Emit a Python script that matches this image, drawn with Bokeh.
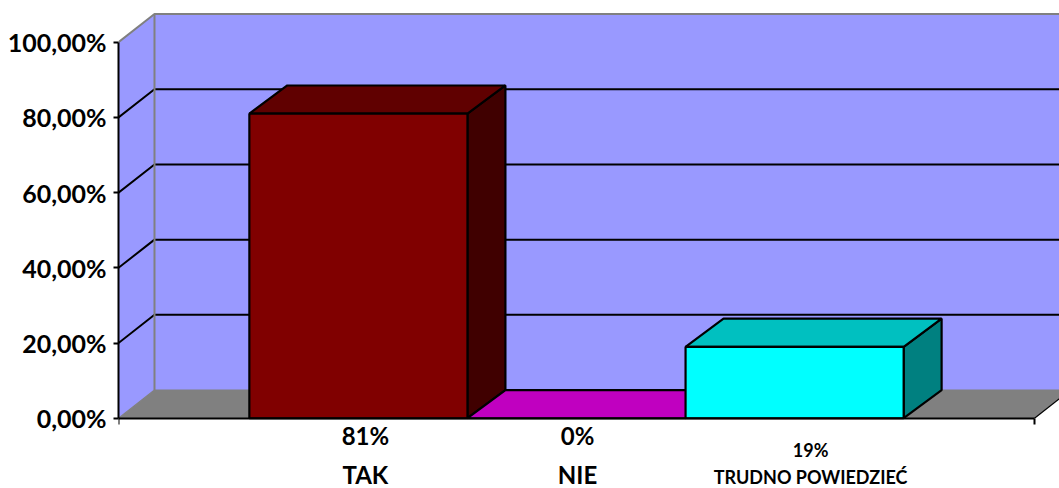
from bokeh.plotting import figure
from bokeh.embed import file_html
from bokeh.resources import INLINE
from bokeh.core.properties import value
from bokeh.models import FixedTicker

categories = ["TAK", "NIE", "TRUDNO POWIEDZIEĆ"]
percent_labels = ["81%", "0%", "19%"]
values = [81, 0, 19]
front_colors = ["#800000", "#c000c0", "#00ffff"]
top_colors = ["#600000", "#c000c0", "#00c0c0"]
side_colors = ["#400000", "#900090", "#008080"]
y_ticks = [0, 20, 40, 60, 80, 100]
y_tick_labels = ["0,00%", "20,00%", "40,00%", "60,00%", "80,00%", "100,00%"]

X0, X1 = -0.6, 3.6          # category span, in bar widths (60 % gap each side)
DX = 0.165                  # wall depth, in bar widths
BDX = 0.174                 # bar depth, in bar widths
DY = 7.5                    # 3-D depth, in percent points
FONT = value("Lato")
FL, FW, FH = 118, 941, 488

p = figure(width=FL + FW, height=FH, output_backend="svg", toolbar_location=None,
           frame_width=FW, frame_height=FH,
           x_range=(-0.6, -0.6 + FW / 218.1), y_range=(111.1 - FH / 3.76, 111.1),
           min_border_left=FL, min_border_right=0, min_border_top=0, min_border_bottom=0,
           outline_line_color=None, background_fill_color="white")
p.grid.visible = False

# walls and floor
p.patch([X0, X0 + DX, X0 + DX, X0], [0, DY, 100 + DY, 100], fill_color="#9999ff", line_color=None)
p.patch([X0 + DX, X1 + DX, X1 + DX, X0 + DX], [DY, DY, 100 + DY, 100 + DY], fill_color="#9999ff", line_color=None)
p.patch([X0, X0 + DX, X1 + DX, X1], [0, DY, DY, 0], fill_color="#808080", line_color=None)

# gridlines on the side and back walls
for t in y_ticks[1:-1]:
    p.line([X0, X0 + DX, X1 + DX], [t, t + DY, t + DY], line_color="black", line_width=2)

# wall edges
p.line([X0, X0 + DX, X1 + DX], [100, 100 + DY, 100 + DY], line_color="#808080", line_width=2)
p.line([X0 + DX, X0 + DX], [DY, 100 + DY], line_color="#808080", line_width=2)
p.line([X0, X0 + DX, X1 + DX], [0, DY, DY], line_color="#808080", line_width=1.2)
p.line([X1, X1 + DX], [0, DY], line_color="black", line_width=1.2)

# bars
for i, v in enumerate(values):
    l, r = i, i + 1
    p.patch([r, r + BDX, r + BDX, r], [0, DY, v + DY, v], fill_color=side_colors[i],
            line_color="black", line_width=2.2)
    p.patch([l, l + BDX, r + BDX, r], [v, v + DY, v + DY, v], fill_color=top_colors[i],
            line_color="black", line_width=2.2)
    if v > 0:
        p.quad(left=l, right=r, bottom=0, top=v, fill_color=front_colors[i],
               line_color="black", line_width=2.2)

# axes
ya = p.yaxis[0]
ya.ticker = FixedTicker(ticks=y_ticks)
ya.major_label_overrides = dict(zip(y_ticks, y_tick_labels))
ya.bounds = (0, 100)
ya.axis_line_color = "black"
ya.axis_line_width = 2
ya.major_tick_line_color = "black"
ya.major_tick_line_width = 2
ya.major_tick_in = 0
ya.major_tick_out = 5
ya.minor_tick_line_color = None
ya.major_label_standoff = 7
ya.major_label_text_font = "Lato"
ya.major_label_text_font_style = "bold"
ya.major_label_text_font_size = "25px"
ya.major_label_text_line_height = 1.0
ya.major_label_text_color = "black"

xa = p.xaxis[0]
xa.fixed_location = 0
xa.ticker = FixedTicker(ticks=[X0, X1])
xa.major_label_overrides = {X0: "", X1: ""}
xa.bounds = (X0, X1)
xa.axis_line_color = "black"
xa.axis_line_width = 2.2
xa.major_tick_line_color = "black"
xa.major_tick_line_width = 2
xa.major_tick_in = 0
xa.major_tick_out = 6
xa.minor_tick_line_color = None

# text boxes beneath the bars
label_dx = [7, 1, 16]
pct_y = [-4.6, -4.6, -8.5]
cat_y = [-15.0, -15.0, -15.6]
sizes = ["24px", "24px", "18px"]
for i in range(3):
    cx = i + 0.5 + label_dx[i] / 218.1
    p.text([cx], [pct_y[i]], text=[percent_labels[i]], text_font=FONT, text_font_style="bold",
           text_font_size=sizes[i], text_align="center", text_baseline="middle", text_color="black")
    p.text([cx], [cat_y[i]], text=[categories[i]], text_font=FONT, text_font_style="bold",
           text_font_size=sizes[i], text_align="center", text_baseline="middle", text_color="black")

open("out.html", "w").write(file_html(p, INLINE))
